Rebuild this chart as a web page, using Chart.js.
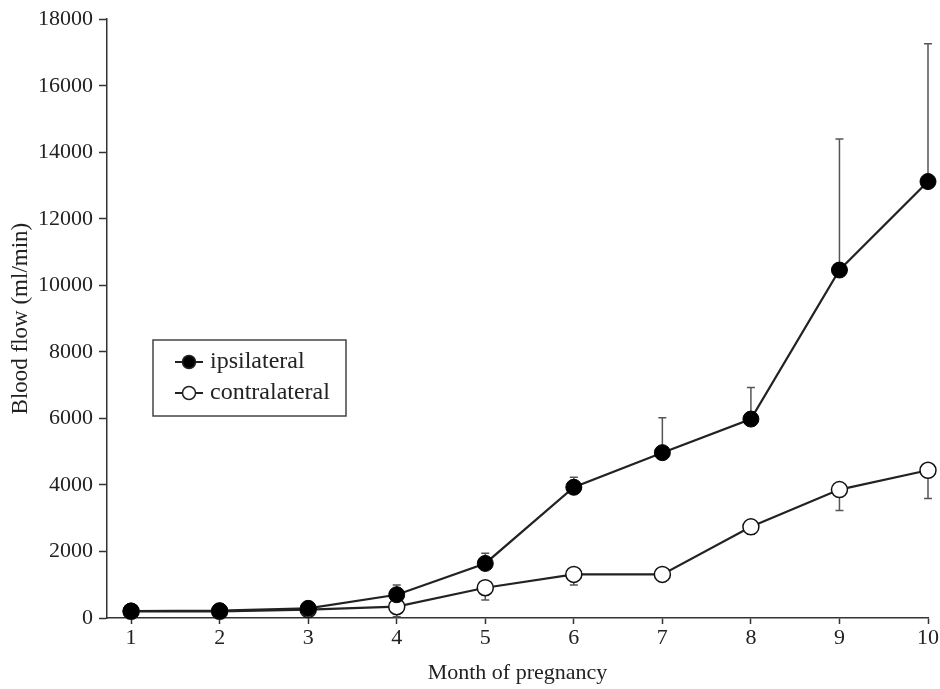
<!DOCTYPE html>
<html lang="en">
<head>
<meta charset="UTF-8" />
<title>Blood flow by month of pregnancy</title>
<script src="https://cdn.jsdelivr.net/npm/chart.js"></script>
<style>
    body {
        margin: 0;
        background: #ffffff;
    }
    canvas {
        display: block;
    }
</style>
</head>
<body>
<canvas id="flowChart" width="940" height="689"></canvas>
<script>
// data
const months = [1, 2, 3, 4, 5, 6, 7, 8, 9, 10];
const ipsilateral = [210, 220, 290, 700, 1640, 3930, 4970, 5980, 10460, 13120];
const ipsilateralSD = [30, 30, 60, 290, 310, 300, 1050, 950, 3940, 4140];
const contralateral = [200, 200, 250, 340, 910, 1310, 1310, 2740, 3860, 4440];
const contralateralSD = [100, 100, 120, 300, 370, 320, 200, 220, 630, 850];
const yTicks = [0, 2000, 4000, 6000, 8000, 10000, 12000, 14000, 16000, 18000];
const legendLabels = ['ipsilateral', 'contralateral'];

const FONT = "'Liberation Serif', 'Times New Roman', serif";
const INK = '#222222';

// SD bars: ipsilateral up, contralateral down
const errorBars = {
    id: 'errorBars',
    beforeDatasetsDraw(chart) {
        const {ctx, scales: {x, y}} = chart;
        ctx.save();
        ctx.strokeStyle = '#555';
        ctx.lineWidth = 1.5;
        chart.data.datasets.forEach(ds => {
            ds.data.forEach((p, i) => {
                const px = x.getPixelForValue(p.x);
                const y0 = y.getPixelForValue(p.y);
                const y1 = y.getPixelForValue(p.y + ds.errDir * ds.err[i]);
                ctx.beginPath();
                ctx.moveTo(px, y0);
                ctx.lineTo(px, y1);
                ctx.moveTo(px - 4, y1);
                ctx.lineTo(px + 4, y1);
                ctx.stroke();
            });
        });
        ctx.restore();
    }
};

// boxed legend inside the plot
const boxLegend = {
    id: 'boxLegend',
    afterDraw(chart) {
        const ctx = chart.ctx;
        const left = 153, top = 340, w = 193, h = 76;
        ctx.save();
        ctx.strokeStyle = '#444';
        ctx.lineWidth = 1.5;
        ctx.strokeRect(left, top, w, h);
        ctx.font = '24px ' + FONT;
        ctx.textBaseline = 'middle';
        chart.data.datasets.forEach((ds, i) => {
            const cy = top + 22 + i * 31;
            ctx.strokeStyle = INK;
            ctx.lineWidth = 2;
            ctx.beginPath();
            ctx.moveTo(175, cy);
            ctx.lineTo(203, cy);
            ctx.stroke();
            ctx.beginPath();
            ctx.arc(189, cy, 6.5, 0, Math.PI * 2);
            ctx.fillStyle = ds.pointBackgroundColor;
            ctx.fill();
            ctx.lineWidth = 1.5;
            ctx.stroke();
            ctx.fillStyle = '#222';
            ctx.fillText(legendLabels[i], 210, cy);
        });
        ctx.restore();
    }
};

const toPoints = vals => vals.map((v, i) => ({x: months[i], y: v}));

new Chart(document.getElementById('flowChart'), {
    type: 'line',
    data: {
        datasets: [
            {
                label: legendLabels[0],
                data: toPoints(ipsilateral),
                err: ipsilateralSD,
                errDir: 1,
                borderColor: INK,
                borderWidth: 2.2,
                pointRadius: 8,
                pointBackgroundColor: '#000000',
                pointBorderColor: '#000000',
                pointBorderWidth: 1,
                order: 1
            },
            {
                label: legendLabels[1],
                data: toPoints(contralateral),
                err: contralateralSD,
                errDir: -1,
                borderColor: INK,
                borderWidth: 2.2,
                pointRadius: 8,
                pointBackgroundColor: '#ffffff',
                pointBorderColor: '#111111',
                pointBorderWidth: 1.5,
                order: 2
            }
        ]
    },
    options: {
        responsive: false,
        animation: false,
        devicePixelRatio: 1,
        clip: false,
        layout: {padding: {top: 18, right: 2, left: 0, bottom: 0}},
        plugins: {
            legend: {display: false},
            tooltip: {enabled: false}
        },
        scales: {
            x: {
                type: 'linear',
                min: 0.728,
                max: 10,
                afterBuildTicks: s => { s.ticks = months.map(v => ({value: v})); },
                afterFit: s => { s.height = 71; },
                border: {color: '#333', width: 1.5},
                grid: {drawOnChartArea: false, tickLength: 6, color: '#333', tickWidth: 1.5},
                ticks: {font: {family: FONT, size: 22}, color: '#222', padding: 1},
                title: {display: true, text: 'Month of pregnancy', font: {family: FONT, size: 22}, color: '#222', padding: {top: 4, bottom: 3}}
            },
            y: {
                min: 0,
                max: 18000,
                afterBuildTicks: s => { s.ticks = yTicks.map(v => ({value: v})); },
                afterFit: s => { s.width = 107; },
                border: {color: '#333', width: 1.5},
                grid: {drawOnChartArea: false, tickLength: 8, color: '#333', tickWidth: 1.5},
                ticks: {font: {family: FONT, size: 22}, color: '#222', padding: 6, callback: v => String(v)},
                title: {display: true, text: 'Blood flow (ml/min)', font: {family: FONT, size: 23}, color: '#222', padding: {top: 7, bottom: 4}}
            }
        }
    },
    plugins: [errorBars, boxLegend]
});
</script>
</body>
</html>
